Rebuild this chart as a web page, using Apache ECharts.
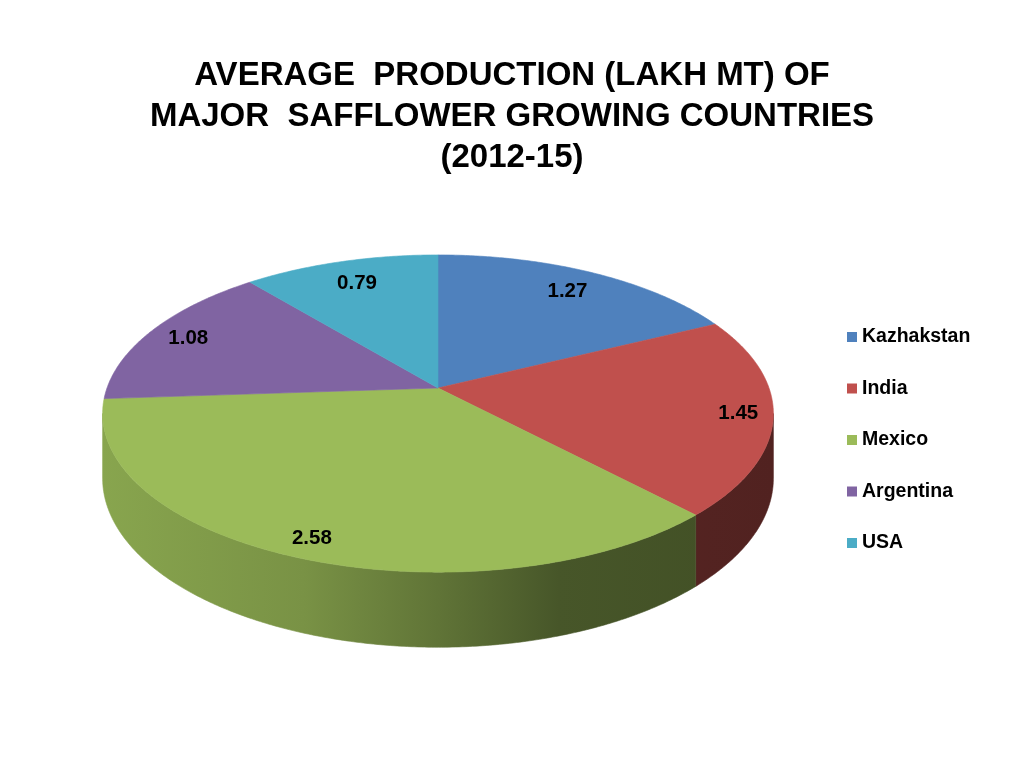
<!DOCTYPE html>
<html>
<head>
<meta charset="utf-8">
<script src="https://cdn.jsdelivr.net/npm/echarts@6/dist/echarts.min.js"></script>
<style>
html,body{margin:0;padding:0;background:#ffffff;}
#chart{width:1024px;height:768px;}
</style>
</head>
<body>
<div id="chart"></div>
<script>
// ---- data ----
const countries = ['Kazhakstan', 'India', 'Mexico', 'Argentina', 'USA'];
const production = [1.27, 1.45, 2.58, 1.08, 0.79];
const sliceColors = ['#4F81BD', '#C0504D', '#9BBB59', '#8064A2', '#4BACC6'];
const titleLines = ['AVERAGE  PRODUCTION (LAKH MT) OF', 'MAJOR  SAFFLOWER GROWING COUNTRIES', '(2012-15)'];

// ---- layout (3D pie projection) ----
const CX = 438, CY = 388;      // apex of the pie on screen
const RX = 331, RY = 154.5;    // projected radii
const PERSP = 0.161;           // perspective strength
const DEPTH = 63;              // extrusion height
const FONT = 'Liberation Sans, Arial, sans-serif';

const total = production.reduce((a, b) => a + b, 0);
const starts = [], ends = [];
let acc = 0;
production.forEach(v => { starts.push(acc / total); acc += v; ends.push(acc / total); });

function project(theta, r, drop) {
  const u = Math.sin(theta) * r, v = -Math.cos(theta) * r;
  const k = 1 / (1 - PERSP * v);
  return [CX + RX * u * k, CY + RY * v * k + drop * DEPTH * k];
}

// silhouette angles (rightmost / leftmost rim points)
let thR = 0, thL = 0, maxX = -Infinity, minX = Infinity;
for (let i = 0; i <= 7200; i++) {
  const t = i / 7200 * Math.PI * 2;
  const p = project(t, 1, 0);
  if (p[0] > maxX) { maxX = p[0]; thR = t; }
  if (p[0] < minX) { minX = p[0]; thL = t; }
}

function shade(hex, f) {
  const n = parseInt(hex.slice(1), 16);
  const r = Math.round(((n >> 16) & 255) * f), g = Math.round(((n >> 8) & 255) * f), b = Math.round((n & 255) * f);
  return 'rgb(' + r + ',' + g + ',' + b + ')';
}
function sideFill(hex) {
  return {
    type: 'linear', x: minX, y: 0, x2: maxX, y2: 0, global: true,
    colorStops: [
      { offset: 0, color: shade(hex, 0.88) },
      { offset: 0.3, color: shade(hex, 0.78) },
      { offset: 0.5, color: shade(hex, 0.62) },
      { offset: 0.68, color: shade(hex, 0.46) },
      { offset: 1, color: shade(hex, 0.42) }
    ]
  };
}

function renderSlice(params, api) {
  const t0 = api.value(0) * Math.PI * 2, t1 = api.value(1) * Math.PI * 2;
  const color = api.visual('color');
  const children = [];
  const STEP = Math.PI / 360;
  // visible outer wall
  const a = Math.max(t0, thR), b = Math.min(t1, thL);
  if (b > a) {
    const pts = [];
    const n = Math.max(2, Math.ceil((b - a) / STEP));
    for (let i = 0; i <= n; i++) pts.push(project(a + (b - a) * i / n, 1, 0));
    for (let i = n; i >= 0; i--) pts.push(project(a + (b - a) * i / n, 1, 1));
    children.push({ type: 'polygon', z2: 1, shape: { points: pts },
      style: { fill: sideFill(color), stroke: sideFill(color), lineWidth: 0.6 } });
  }
  // top face
  const top = [[CX, CY]];
  const m = Math.max(2, Math.ceil((t1 - t0) / STEP));
  for (let i = 0; i <= m; i++) top.push(project(t0 + (t1 - t0) * i / m, 1, 0));
  children.push({ type: 'polygon', z2: 10, shape: { points: top },
    style: { fill: color, stroke: color, lineWidth: 0.6 } });
  // value label
  const tm = (t0 + t1) / 2;
  const u = Math.sin(tm), v = -Math.cos(tm);
  const f = 0.84 + 0.05 * v + 0.05 * Math.abs(u);
  const lp = project(tm, f, 0);
  children.push({ type: 'text', z2: 20, x: lp[0], y: lp[1],
    style: { text: api.value(2).toFixed(2), fill: '#000', fontSize: 20.5, fontWeight: 'bold',
      fontFamily: FONT, align: 'center', verticalAlign: 'middle' } });
  return { type: 'group', children: children };
}

const chart = echarts.init(document.getElementById('chart'), null, { renderer: 'canvas' });
chart.setOption({
  backgroundColor: '#ffffff',
  animation: false,
  title: {
    text: titleLines.join('\n'),
    left: 'center',
    top: 55,
    padding: [0, 0, 0, 6],
    textStyle: { fontSize: 33, fontWeight: 'bold', fontFamily: FONT, color: '#000', lineHeight: 41 }
  },
  legend: {
    data: countries,
    orient: 'vertical',
    left: 842,
    top: 322,
    itemWidth: 10,
    itemHeight: 10,
    itemGap: 31.5,
    icon: 'rect',
    selectedMode: false,
    textStyle: { fontSize: 19.5, fontWeight: 'bold', fontFamily: FONT, color: '#000', lineHeight: 20 }
  },
  series: countries.map((name, i) => ({
    type: 'custom',
    name: name,
    coordinateSystem: 'none',
    silent: true,
    itemStyle: { color: sliceColors[i] },
    data: [[starts[i], ends[i], production[i]]],
    renderItem: renderSlice
  }))
});
</script>
</body>
</html>
